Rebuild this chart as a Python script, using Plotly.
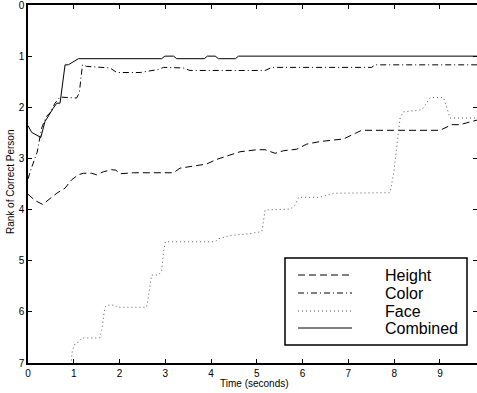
import plotly.graph_objects as go

# ---- data ----
series_names = ["Height", "Color", "Face", "Combined"]

height_x = [0, 0.15, 0.32, 0.45, 0.63, 0.81, 0.95, 1.10, 1.21, 1.39, 1.50, 1.65, 1.83, 1.92, 2.01, 2.30,
            3.18, 3.32, 3.65, 3.90, 4.12, 4.42, 4.63, 5.00, 5.18, 5.40, 5.58, 5.87, 6.09, 6.38, 6.89,
            7.15, 7.29, 9.00, 9.11, 9.26, 9.44, 9.66, 9.81]
height_y = [3.70, 3.82, 3.90, 3.80, 3.68, 3.58, 3.42, 3.32, 3.29, 3.29, 3.32, 3.26, 3.22, 3.23, 3.30, 3.28,
            3.28, 3.19, 3.14, 3.11, 3.02, 2.93, 2.87, 2.83, 2.83, 2.90, 2.85, 2.82, 2.72, 2.67, 2.62,
            2.51, 2.45, 2.45, 2.41, 2.34, 2.34, 2.28, 2.25]

color_x = [0, 0.07, 0.20, 0.30, 0.40, 0.48, 0.59, 0.70, 1.06, 1.12, 1.19, 1.28, 1.79, 1.94, 2.45, 2.85,
           2.96, 3.39, 3.54, 5.18, 5.33, 7.51, 7.58, 9.81]
color_y = [3.40, 3.20, 2.88, 2.40, 2.18, 2.11, 1.92, 1.80, 1.82, 1.72, 1.17, 1.20, 1.23, 1.32, 1.32, 1.26,
           1.22, 1.23, 1.28, 1.28, 1.22, 1.22, 1.17, 1.17]

face_x = [0.95, 0.97, 1.03, 1.10, 1.17, 1.57, 1.61, 1.65, 1.68, 1.72, 1.90, 1.94, 2.59, 2.63, 2.70, 2.85,
          2.92, 2.96, 3.00, 4.09, 4.16, 4.42, 4.85, 5.11, 5.15, 5.18, 5.73, 5.84, 5.91, 6.38, 6.67,
          7.77, 7.91, 7.99, 8.06, 8.13, 8.20, 8.60, 8.68, 8.79, 9.08, 9.11, 9.17, 9.22, 9.81]
face_y = [6.95, 6.75, 6.62, 6.59, 6.51, 6.51, 6.36, 6.10, 5.91, 5.87, 5.87, 5.91, 5.91, 5.71, 5.28, 5.28,
          5.20, 4.83, 4.63, 4.63, 4.57, 4.51, 4.47, 4.43, 4.20, 4.01, 3.99, 3.91, 3.76, 3.76, 3.68,
          3.68, 3.67, 3.29, 2.77, 2.21, 2.09, 2.05, 1.95, 1.81, 1.81, 1.89, 2.08, 2.21, 2.21]

combined_x = [0, 0.08, 0.28, 0.37, 0.55, 0.63, 0.70, 0.81, 0.88, 1.10, 2.92, 2.99, 3.18, 3.25,
              3.85, 3.92, 4.09, 4.16, 4.53, 4.60, 9.81]
combined_y = [2.36, 2.49, 2.59, 2.28, 2.02, 1.92, 1.92, 1.17, 1.17, 1.05, 1.05, 1.00, 1.00, 1.05,
              1.05, 1.00, 1.00, 1.05, 1.05, 1.00, 1.00]

x_ticks = [0, 1, 2, 3, 4, 5, 6, 7, 8, 9]
y_ticks = [0, 1, 2, 3, 4, 5, 6, 7]
x_title = "Time (seconds)"
y_title = "Rank of Correct Person"

# ---- styles ----
dashes = ["7px,4px", "6px,3px,1px,3px", "1px,3px", "solid"]
line_colors = ["black", "black", "#555555", "black"]
FONT = "Liberation Sans, Arial, sans-serif"

W, H = 477, 393
L, R, T, B = 28, 0, 5, 30
pw, ph = W - L - R, H - T - B


def px(xp):
    return (xp - L) / pw


def py(yp):
    return (H - B - yp) / ph


fig = go.Figure()
for name, xs, ys, d, c in zip(series_names,
                              [height_x, color_x, face_x, combined_x],
                              [height_y, color_y, face_y, combined_y],
                              dashes, line_colors):
    fig.add_trace(go.Scatter(x=xs, y=ys, mode="lines", name=name, showlegend=False,
                             line=dict(color=c, width=1, dash=d)))

axis_common = dict(showgrid=False, zeroline=False, showline=True, linecolor="black", linewidth=1.5,
                   mirror="ticks", ticks="inside", ticklen=4, tickcolor="black", tickwidth=1,
                   ticklabeloverflow="allow",
                   tickfont=dict(size=10, color="black", family=FONT))

fig.update_xaxes(range=[0, 9.81], tickvals=x_ticks, ticktext=[str(v) for v in x_ticks], **axis_common)
fig.update_yaxes(range=[7, 0], tickvals=y_ticks, ticktext=[str(v) for v in y_ticks], **axis_common)

shapes = []
annotations = []
# legend box
shapes.append(dict(type="rect", xref="paper", yref="paper", x0=px(285), x1=px(467), y0=py(345), y1=py(258),
                   line=dict(color="black", width=1.5), fillcolor="white", layer="above"))
rows = [275, 293, 311, 328]
for name, d, c, r in zip(series_names, dashes, line_colors, rows):
    shapes.append(dict(type="line", xref="paper", yref="paper", x0=px(298), x1=px(352), y0=py(r), y1=py(r),
                       line=dict(color=c, width=1, dash=d), layer="above"))
    annotations.append(dict(text=name, xref="paper", yref="paper", x=px(383), y=py(r), xanchor="left",
                            yanchor="middle", showarrow=False, font=dict(size=16, color="black", family=FONT)))

annotations.append(dict(text=x_title, xref="paper", yref="paper", x=px(254), y=py(383), xanchor="center",
                        yanchor="middle", showarrow=False, font=dict(size=10, color="black", family=FONT)))
annotations.append(dict(text=y_title, xref="paper", yref="paper", x=px(11), y=py(182), xanchor="center",
                        yanchor="middle", textangle=-90, showarrow=False,
                        font=dict(size=10, color="black", family=FONT)))

fig.update_layout(width=W, height=H, margin=dict(l=L, r=R, t=T, b=B, autoexpand=False),
                  paper_bgcolor="white", plot_bgcolor="white", showlegend=False,
                  shapes=shapes, annotations=annotations, font=dict(family=FONT, color="black"))

fig.write_html("out.html", config={"displayModeBar": False},
               post_script="document.body.style.margin='0';document.body.style.padding='0';")
